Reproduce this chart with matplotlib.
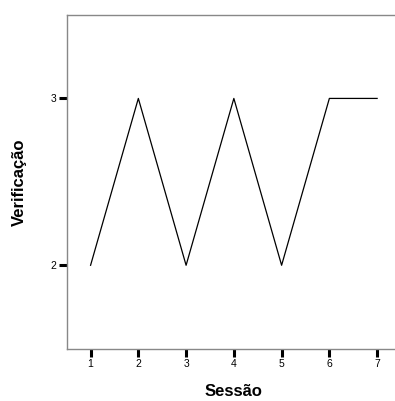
import matplotlib
matplotlib.use("Agg")
import matplotlib.pyplot as plt

sessions = [1, 2, 3, 4, 5, 6, 7]
verificacao = [2, 3, 2, 3, 2, 3, 3]
x_ticks = [1, 2, 3, 4, 5, 6, 7]
y_ticks = [2, 3]

plt.rcParams['font.family'] = ['Liberation Sans', 'DejaVu Sans']

fig = plt.figure(figsize=(3.95, 4.01), dpi=100)
ax = fig.add_axes([66.7/395, (401-348.7)/401, (401-66.7)/395, (348.7-15)/401])
ax.plot(sessions, verificacao, color='black', linewidth=0.9)
ax.set_xlim(0.5, 7.5)
ax.set_ylim(1.5, 3.5)
ax.set_xticks(x_ticks)
ax.set_yticks(y_ticks)
ax.tick_params(axis='both', direction='out', length=6, width=2.2, color='black',
               labelsize=7.5, pad=1.5)
for s in ['left', 'bottom', 'top', 'right']:
    ax.spines[s].set_color('#888888')
    ax.spines[s].set_linewidth(1.0)
ax.set_xlabel('Sessão', fontsize=12, fontweight='bold', labelpad=11)
ax.set_ylabel('Verificação', fontsize=12, fontweight='bold', labelpad=17)
fig.savefig('out.png', dpi=100)
